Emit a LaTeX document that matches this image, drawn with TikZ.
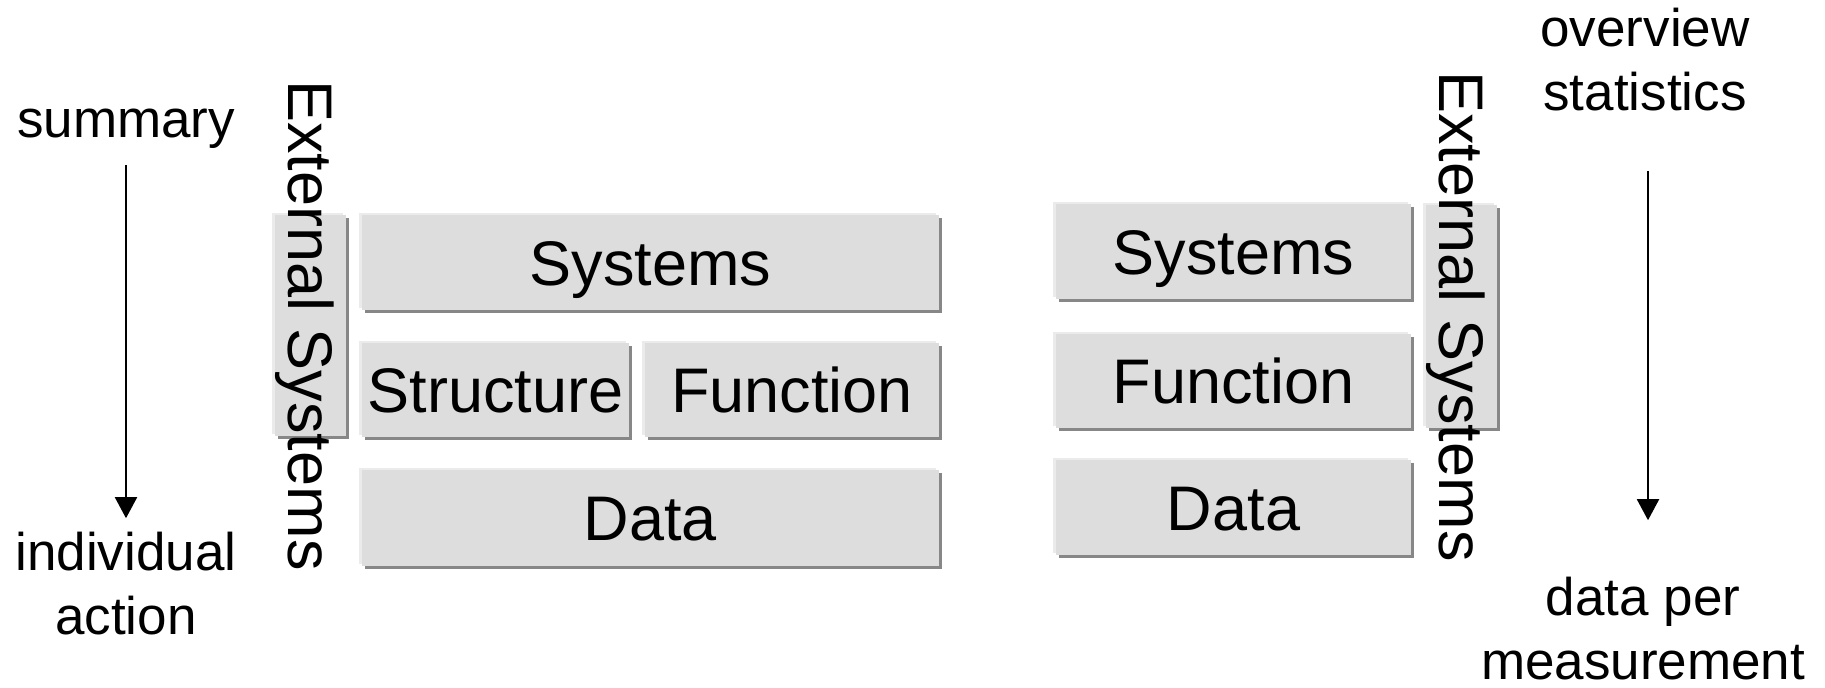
\documentclass[tikz,border=0pt]{standalone}
\usepackage{fontspec}
\setmainfont{Liberation Sans}
\usetikzlibrary{arrows.meta,shadows}
\definecolor{boxfill}{HTML}{DDDDDD}
\definecolor{boxlight}{HTML}{EBEBEB}
\definecolor{boxdark}{HTML}{878787}
\begin{document}
\begin{tikzpicture}[x=0.5pt,y=-0.5pt,
  block/.style={fill=boxfill, inner sep=0pt,
    general shadow={shadow xshift=1.25pt, shadow yshift=-1.25pt, fill=boxdark},
    general shadow={shadow xshift=-1.75pt, shadow yshift=1.25pt, fill=boxlight}},
  blocktext/.style={inner sep=0pt, text height=22.5pt, text depth=0pt,
    font=\fontsize{31.5}{36}\selectfont},
  sidelabel/.style={inner sep=0pt, align=center,
    font=\fontsize{26.5}{32}\selectfont},
  flow/.style={-{Triangle[length=10.5pt,width=11pt]}, line width=1pt}]
\useasboundingbox (0,0) rectangle (1825,687);

% left stack
\node[block, minimum width=35.5pt, minimum height=110.5pt] (lext) at (310.5,325.5) {};
\node[block, minimum width=288.5pt, minimum height=47.5pt] (lsys) at (650.5,262.5) {};
\node[block, minimum width=133.5pt, minimum height=47pt] (lstruct) at (495.5,390) {};
\node[block, minimum width=147pt, minimum height=47pt] (lfunc) at (792,390) {};
\node[block, minimum width=288.5pt, minimum height=48pt] (ldata) at (650.5,518) {};
\node[blocktext] at (lsys.center) {Systems};
\node[blocktext] at (lstruct.center) {Structure};
\node[blocktext] at (lfunc.center) {Function};
\node[blocktext] at (ldata.center) {Data};
\node[blocktext, rotate=-90] (lexttext) at (lext.center) {External Systems};

% right stack
\node[block, minimum width=177.5pt, minimum height=47.5pt] (rsys) at (1233.5,251.5) {};
\node[block, minimum width=177.5pt, minimum height=47pt] (rfunc) at (1233.5,381) {};
\node[block, minimum width=177.5pt, minimum height=47.5pt] (rdata) at (1233.5,507.5) {};
\node[block, minimum width=35.5pt, minimum height=111.5pt] (rext) at (1461.5,316.5) {};
\node[blocktext] at (rsys.center) {Systems};
\node[blocktext] at (rfunc.center) {Function};
\node[blocktext] at (rdata.center) {Data};
\node[blocktext, rotate=-90] (rexttext) at (rext.center) {External Systems};

% left scale (base anchor = baseline of the last line)
\node[sidelabel, anchor=base] (summary) at (126,137) {summary};
\node[sidelabel, anchor=base] (indiv) at (126,634) {individual\\action};
\draw[flow, shorten <=8.5pt, shorten >=6.5pt] (summary.south) -- (summary.south |- indiv.north);

% right scale
\node[sidelabel, anchor=base] (overview) at (1645,110) {overview\\statistics};
\node[sidelabel, anchor=base] (dper) at (1643,679) {data per\\measurement};
\draw[flow, shorten <=30pt, shorten >=28pt] ([xshift=1.5pt]overview.south) -- ([xshift=1.5pt]overview.south |- dper.north);
\end{tikzpicture}
\end{document}
